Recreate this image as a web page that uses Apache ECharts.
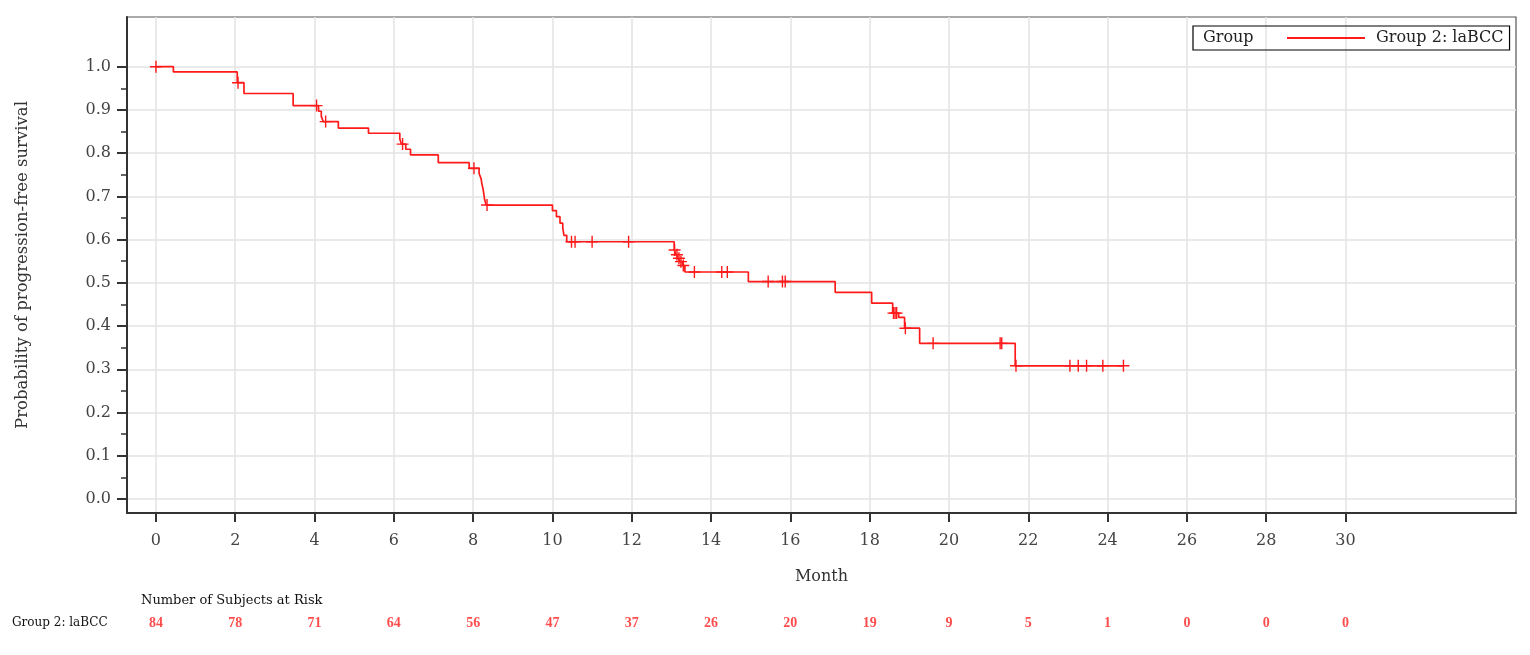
<!DOCTYPE html>
<html>
<head>
<meta charset="utf-8">
<script src="https://cdn.jsdelivr.net/npm/echarts@6/dist/echarts.min.js"></script>
<style>
html,body{margin:0;padding:0;background:#fff;}
#chart{width:1530px;height:655px;}
</style>
</head>
<body>
<div id="chart"></div>
<script>
// ---- data ----
const groupName = 'Group 2: laBCC';
const xTicks = [0, 2, 4, 6, 8, 10, 12, 14, 16, 18, 20, 22, 24, 26, 28, 30];
const yTicks = [0, 0.1, 0.2, 0.3, 0.4, 0.5, 0.6, 0.7, 0.8, 0.9, 1.0];
const yMinorTicks = [0.05, 0.15, 0.25, 0.35, 0.45, 0.55, 0.65, 0.75, 0.85, 0.95];
// Kaplan-Meier event times (months) and survival after each event
const eventTimes = [0.44, 2.05, 2.22, 3.46, 4.10, 4.17, 4.22, 4.60, 5.36, 6.15, 6.19, 6.30, 6.42, 7.12, 7.90,
  8.15, 8.20, 8.22, 8.25, 8.27, 8.29, 8.33, 10.00, 10.10, 10.19, 10.26, 10.29, 10.36,
  13.07, 13.12, 13.17, 13.22, 13.28, 13.34, 14.94, 17.13, 18.05, 18.58, 18.73, 18.88, 19.26, 21.67];
const survival = [0.988, 0.963, 0.938, 0.910, 0.897, 0.885, 0.873, 0.858, 0.846, 0.833, 0.821, 0.809, 0.796, 0.778, 0.765,
  0.753, 0.741, 0.729, 0.717, 0.705, 0.692, 0.680, 0.667, 0.653, 0.638, 0.627, 0.610, 0.595,
  0.576, 0.565, 0.557, 0.549, 0.540, 0.525, 0.503, 0.478, 0.453, 0.430, 0.420, 0.395, 0.360, 0.308];
const lastTime = 24.40;
// censored observation times (months)
const censorTimes = [0, 2.07, 4.05, 4.28, 6.22, 8.02, 8.35, 10.48, 10.57, 11.00, 11.92,
  13.08, 13.14, 13.19, 13.24, 13.30, 13.58, 14.27, 14.41, 15.44, 15.80, 15.87,
  18.60, 18.64, 18.68, 18.90, 19.60, 21.29, 21.33, 21.69, 23.05, 23.26, 23.47, 23.88, 24.40];
// number at risk
const riskTimes = [0, 2, 4, 6, 8, 10, 12, 14, 16, 18, 20, 22, 24, 26, 28, 30];
const riskCounts = [84, 78, 71, 64, 56, 47, 37, 26, 20, 19, 9, 5, 1, 0, 0, 0];

// ---- build series from the data ----
function survAt(t) {
  let s = 1.0;
  for (let i = 0; i < eventTimes.length; i++) { if (eventTimes[i] <= t) s = survival[i]; }
  return s;
}
const kmLine = [[0, 1.0]];
let prev = 1.0;
eventTimes.forEach((t, i) => { kmLine.push([t, prev]); kmLine.push([t, survival[i]]); prev = survival[i]; });
kmLine.push([lastTime, prev]);
const censorData = censorTimes.map(t => [t, survAt(t)]);
const riskData = riskTimes.map((t, i) => [t, groupName, riskCounts[i]]);

const XMIN = -0.73, XMAX = 34.3, YMIN = -0.0325, YMAX = 1.115;
const FONT = 'DejaVu Serif';
const RED = '#ff1a1a';
const plusPath = 'path://M0,5.3 L12,5.3 L12,6.7 L0,6.7 Z M5.3,0 L6.7,0 L6.7,12 L5.3,12 Z';

const chart = echarts.init(document.getElementById('chart'), null, {renderer: 'canvas'});
chart.setOption({
  animation: false,
  backgroundColor: '#fff',
  textStyle: {fontFamily: FONT},
  grid: [
    {left: 127, right: 14, top: 17, bottom: 142, show: true, borderColor: '#555', borderWidth: 1.2, backgroundColor: 'transparent'},
    {left: 127, right: 14, top: 612, height: 22, show: false}
  ],
  legend: {
    data: [groupName],
    left: 1193, top: 26,
    orient: 'horizontal',
    padding: [4, 6, 4, 94],
    borderColor: '#000', borderWidth: 1.2,
    icon: 'rect', itemWidth: 78, itemHeight: 2,
    itemGap: 8,
    textStyle: {fontFamily: FONT, fontSize: 16, color: '#222', padding: [0, 0, 0, 6]}
  },
  graphic: [
    {type: 'text', left: 1203, top: 30, z: 100, style: {text: 'Group', font: '16px "DejaVu Serif"', fill: '#222'}},
    {type: 'text', left: 141, top: 594, style: {text: 'Number of Subjects at Risk', font: '13px "DejaVu Serif"', fill: '#111'}}
  ],
  xAxis: [
    {
      type: 'value', gridIndex: 0, min: XMIN, max: XMAX,
      name: 'Month', nameLocation: 'middle', nameGap: 56,
      nameTextStyle: {fontFamily: FONT, fontSize: 16, color: '#333'},
      axisLine: {show: true, onZero: false, lineStyle: {color: '#333', width: 2}},
      axisTick: {show: true, inside: false, length: 9, customValues: xTicks, lineStyle: {color: '#333', width: 2}},
      axisLabel: {show: true, customValues: xTicks, margin: 20, fontFamily: FONT, fontSize: 16, color: '#444'},
      splitLine: {show: true, lineStyle: {color: '#e3e3e3', width: 1.5}}
    },
    {type: 'value', gridIndex: 1, min: XMIN, max: XMAX, show: false}
  ],
  yAxis: [
    {
      type: 'value', gridIndex: 0, min: YMIN, max: YMAX,
      name: 'Probability of progression-free survival', nameLocation: 'middle', nameRotate: 90, nameGap: 96,
      nameTextStyle: {fontFamily: FONT, fontSize: 16.5, color: '#333'},
      axisLine: {show: true, onZero: false, lineStyle: {color: '#333', width: 2}},
      axisTick: {show: true, inside: false, length: 10, customValues: yTicks, lineStyle: {color: '#333', width: 2}},
      axisLabel: {show: true, customValues: yTicks, margin: 16, fontFamily: FONT, fontSize: 16, color: '#444',
        formatter: v => Number(v).toFixed(1)},
      splitLine: {show: true, lineStyle: {color: '#e3e3e3', width: 1.5}}
    },
    {
      type: 'value', gridIndex: 0, min: YMIN, max: YMAX, position: 'left', offset: 0,
      axisLine: {show: false, onZero: false},
      axisTick: {show: true, inside: false, length: 6, customValues: yMinorTicks, lineStyle: {color: '#333', width: 1.5}},
      axisLabel: {show: false},
      splitLine: {show: false}
    },
    {
      type: 'category', gridIndex: 1, data: [groupName],
      axisLine: {show: false}, axisTick: {show: false}, splitLine: {show: false},
      axisLabel: {show: true, align: 'left', margin: 115, fontFamily: FONT, fontSize: 12, color: '#111'}
    }
  ],
  series: [
    {
      name: groupName, type: 'line', xAxisIndex: 0, yAxisIndex: 0,
      data: kmLine, showSymbol: false, symbol: 'none',
      lineStyle: {color: RED, width: 1.7}, itemStyle: {color: RED}, z: 5
    },
    {
      name: 'censored', type: 'scatter', xAxisIndex: 0, yAxisIndex: 0,
      data: censorData, symbol: plusPath, symbolSize: 12,
      itemStyle: {color: RED, opacity: 1}, z: 6
    },
    {
      name: 'risk', type: 'scatter', xAxisIndex: 1, yAxisIndex: 2,
      data: riskData, symbol: 'circle', symbolSize: 1, itemStyle: {color: 'rgba(0,0,0,0)'},
      label: {show: true, position: 'inside', formatter: p => String(p.value[2]),
        fontFamily: 'Liberation Serif', fontSize: 14, fontWeight: 'bold', color: '#ff2020'}
    }
  ]
});
</script>
</body>
</html>
